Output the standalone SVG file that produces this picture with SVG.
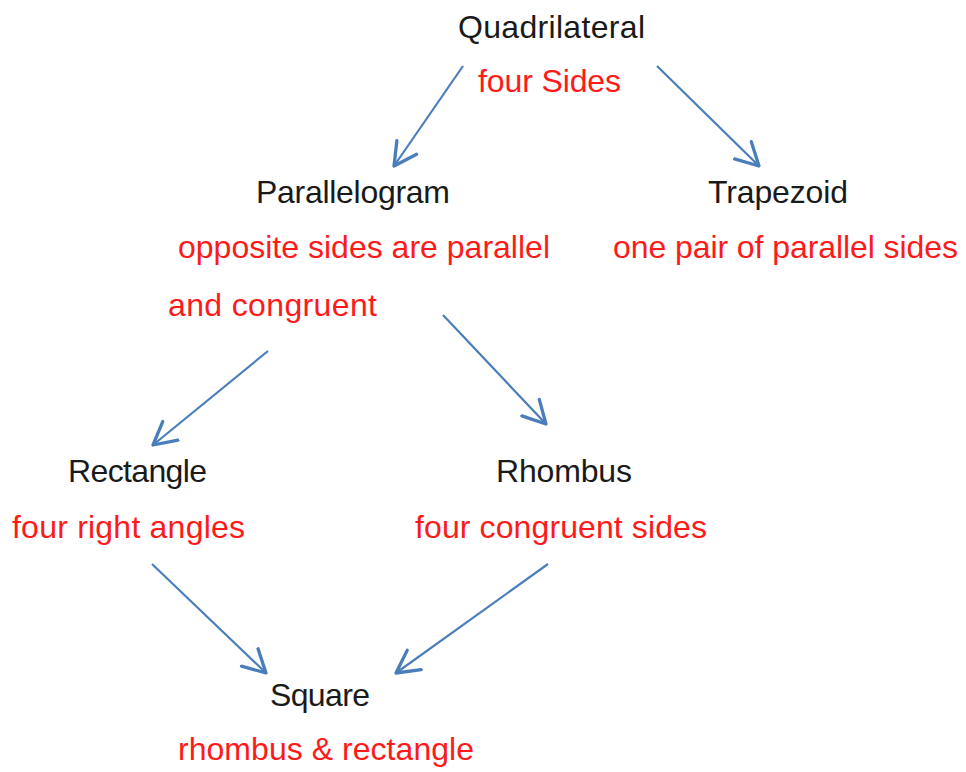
<svg xmlns="http://www.w3.org/2000/svg" width="966" height="772" viewBox="0 0 966 772">
<defs>
<style>
text{font-family:"Liberation Sans",Arial,sans-serif;font-size:32px}
.t{fill:#1a1a1a}
.d{fill:#ff1a1a}
.c line{stroke:#4a7ebb;stroke-width:2.2;fill:none;marker-end:url(#ah)}
</style>
<marker id="ah" markerUnits="userSpaceOnUse" markerWidth="30" markerHeight="30" viewBox="-16 -10 20 20" refX="0" refY="0" orient="auto">
<path d="M-15,-8 L0,0 L-15,8" fill="none" stroke="#4a7ebb" stroke-width="2.2" stroke-linecap="round" stroke-linejoin="round"/>
</marker>
</defs>
<rect width="966" height="772" fill="#ffffff"/>
<g class="c" id="connectors">
<line x1="463" y1="66" x2="394" y2="166"/>
<line x1="657" y1="66" x2="759" y2="166"/>
<line x1="268" y1="351" x2="153" y2="445"/>
<line x1="443" y1="315" x2="546" y2="424"/>
<line x1="152" y1="564" x2="266" y2="673"/>
<line x1="548" y1="564" x2="396" y2="673"/>
</g>
<g id="quadrilateral">
<text class="t" x="458" y="38" textLength="187">Quadrilateral</text>
<text class="d" x="478" y="92" textLength="143">four Sides</text>
</g>
<g id="parallelogram">
<text class="t" x="256" y="203" textLength="194">Parallelogram</text>
<text class="d" x="178" y="258" textLength="372">opposite sides are parallel</text>
<text class="d" x="168" y="316" textLength="209">and congruent</text>
</g>
<g id="trapezoid">
<text class="t" x="708" y="203" textLength="140">Trapezoid</text>
<text class="d" x="613" y="258" textLength="345">one pair of parallel sides</text>
</g>
<g id="rectangle">
<text class="t" x="68" y="482" textLength="139">Rectangle</text>
<text class="d" x="12" y="538" textLength="233">four right angles</text>
</g>
<g id="rhombus">
<text class="t" x="496" y="482" textLength="136">Rhombus</text>
<text class="d" x="415" y="538" textLength="292">four congruent sides</text>
</g>
<g id="square">
<text class="t" x="270" y="706" textLength="100">Square</text>
<text class="d" x="178" y="760" textLength="296">rhombus &amp; rectangle</text>
</g>
</svg>
